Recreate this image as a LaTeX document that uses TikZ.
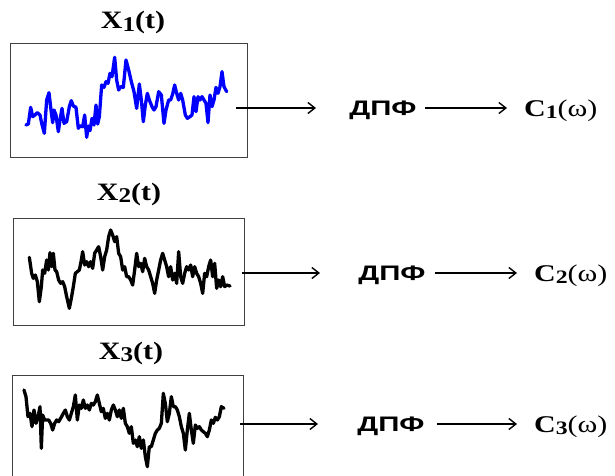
\documentclass[tikz,border=0pt]{standalone}
\usepackage{fontspec}
\setmainfont{Liberation Serif}
\newfontfamily\dpffont{Liberation Sans}
\usetikzlibrary{arrows.meta}
\newcommand{\sgnlab}[1]{\scalebox{1.2}[1]{\fontsize{25}{30}\selectfont\bfseries X\raisebox{-2.5pt}{\fontsize{21}{21}\selectfont #1}(t)}}
\newcommand{\spclab}[1]{\scalebox{1.25}[1]{\fontsize{24}{28}\selectfont\textbf{C\raisebox{-2.5pt}{\fontsize{19}{19}\selectfont #1}}(ω)}}
\newcommand{\dpflab}{\scalebox{1.4}[1]{\dpffont\fontsize{21}{24}\selectfont\bfseries ДПФ}}
\tikzset{
  sigbox/.style={draw=black!75, line width=0.9pt, inner sep=0pt},
  lbl/.style={inner sep=0pt, anchor=base},
  arr/.style={line width=1.4pt, -{Straight Barb[length=7pt,width=11pt,line width=1.4pt]}},
  wave/.style={line width=3.3pt, line join=round, line cap=round},
}
\begin{document}
\begin{tikzpicture}[x=1pt,y=-1pt]
\useasboundingbox (0,0) rectangle (615,475);
\clip (0,0) rectangle (615,475);
% boxes
\node[sigbox, minimum width=237pt, minimum height=114pt] (box1) at (128.5,100) {};
\node[sigbox, minimum width=231pt, minimum height=107pt] (box2) at (128.5,271.5) {};
\node[sigbox, minimum width=231pt, minimum height=115pt] (box3) at (127.5,432.5) {};
% titles
\node[lbl] (x1) at (133,28.5) {\sgnlab{1}};
\node[lbl] (x2) at (129,200) {\sgnlab{2}};
\node[lbl] (x3) at (131,359) {\sgnlab{3}};
% DFT labels
\node[lbl] (d1) at (383,115) {\dpflab};
\node[lbl] (d2) at (392,280) {\dpflab};
\node[lbl] (d3) at (391,431) {\dpflab};
% spectra
\node[lbl, anchor=base west] (c1) at (524,116) {\spclab{1}};
\node[lbl, anchor=base west] (c2) at (534,281) {\spclab{2}};
\node[lbl, anchor=base west] (c3) at (534,432) {\spclab{3}};
% arrow end points
\coordinate (a1s) at (236,108); \coordinate (a1e) at (316,108);
\coordinate (b1s) at (425,108); \coordinate (b1e) at (507,108);
\coordinate (a2s) at (242,273); \coordinate (a2e) at (320,273);
\coordinate (b2s) at (435,273); \coordinate (b2e) at (517,273);
\coordinate (a3s) at (240,424); \coordinate (a3e) at (318,424);
\coordinate (b3s) at (437,424); \coordinate (b3e) at (517,424);
\draw[arr] (a1s) -- (a1e); \draw[arr] (b1s) -- (b1e);
\draw[arr] (a2s) -- (a2e); \draw[arr] (b2s) -- (b2e);
\draw[arr] (a3s) -- (a3e); \draw[arr] (b3s) -- (b3e);
% signal 1
\begin{scope}[shift={(0,0)},scale=1/3]
\draw[wave, color={rgb,255:red,0;green,0;blue,255}] (78,375)--(85,372)--(92,322)--(98,350)--(105,345)--(112,338)--(120,345)--(125,370)--(133,400)--(140,300)--(147,278)--(153,330)--(158,368)--(162,330)--(168,345)--(175,395)--(180,360)--(186,325)--(192,370)--(200,365)--(208,320)--(214,302)--(220,318)--(228,322)--(235,385)--(240,378)--(248,380)--(254,345)--(260,412)--(265,378)--(270,392)--(276,355)--(282,375)--(288,315)--(293,372)--(298,350)--(305,255)--(312,262)--(318,245)--(324,250)--(330,220)--(336,230)--(344,172)--(350,240)--(356,270)--(362,260)--(370,262)--(378,180)--(386,210)--(394,245)--(402,275)--(410,325)--(418,252)--(424,300)--(430,365)--(436,315)--(442,280)--(448,300)--(456,320)--(462,330)--(468,320)--(476,275)--(484,285)--(492,370)--(498,330)--(506,300)--(512,300)--(518,282)--(524,255)--(530,280)--(536,300)--(542,280)--(548,300)--(556,345)--(562,355)--(570,350)--(576,345)--(582,290)--(588,335)--(594,290)--(600,300)--(606,290)--(612,300)--(618,310)--(624,368)--(630,285)--(636,320)--(642,300)--(648,262)--(654,280)--(660,260)--(666,215)--(672,260)--(680,275);
\end{scope}
% signal 2
\begin{scope}[shift={(0,170)},scale=1/3]
\draw[wave] (88,262)--(95,310)--(100,325)--(106,315)--(112,335)--(118,395)--(124,350)--(128,300)--(134,310)--(140,270)--(145,300)--(150,248)--(155,290)--(160,250)--(165,300)--(170,305)--(176,330)--(182,340)--(188,335)--(194,350)--(200,380)--(208,415)--(214,385)--(220,350)--(226,310)--(232,305)--(238,300)--(244,270)--(248,245)--(254,285)--(260,275)--(266,290)--(272,275)--(278,295)--(284,250)--(290,240)--(296,230)--(302,260)--(308,300)--(314,260)--(320,240)--(326,200)--(332,180)--(338,195)--(344,215)--(350,200)--(356,250)--(362,260)--(368,300)--(374,290)--(380,320)--(386,320)--(392,330)--(398,345)--(404,300)--(410,250)--(416,290)--(422,280)--(428,305)--(434,265)--(440,290)--(446,300)--(452,320)--(458,340)--(464,370)--(470,330)--(476,300)--(482,270)--(488,250)--(494,270)--(500,290)--(506,320)--(512,290)--(518,330)--(524,310)--(530,340)--(536,245)--(542,320)--(548,340)--(554,310)--(560,290)--(566,300)--(572,285)--(578,320)--(584,290)--(590,310)--(596,320)--(602,340)--(608,370)--(614,310)--(620,320)--(626,290)--(632,270)--(638,320)--(644,280)--(650,355)--(656,330)--(662,350)--(668,320)--(674,350)--(680,345)--(690,348);
\end{scope}
% signal 3
\begin{scope}[shift={(0,330)},scale=1/3]
\draw[wave] (72,180)--(78,200)--(84,260)--(90,250)--(96,290)--(102,240)--(108,280)--(114,260)--(120,230)--(124,355)--(128,255)--(134,270)--(140,270)--(146,270)--(152,280)--(158,300)--(164,280)--(170,270)--(176,275)--(182,265)--(190,250)--(196,240)--(202,260)--(208,270)--(214,250)--(220,230)--(226,195)--(232,270)--(238,225)--(244,235)--(250,210)--(256,235)--(262,225)--(268,240)--(274,220)--(280,225)--(286,215)--(292,195)--(298,220)--(304,245)--(310,235)--(316,265)--(322,250)--(328,270)--(334,240)--(340,225)--(346,240)--(352,260)--(358,240)--(364,265)--(370,235)--(376,280)--(382,290)--(388,310)--(394,290)--(400,340)--(406,330)--(412,350)--(418,320)--(424,355)--(430,330)--(436,380)--(442,410)--(448,350)--(454,350)--(460,330)--(466,310)--(472,300)--(478,295)--(484,280)--(490,190)--(496,220)--(502,275)--(508,250)--(514,200)--(520,230)--(526,230)--(532,240)--(538,260)--(544,290)--(550,310)--(556,360)--(562,300)--(568,250)--(574,300)--(580,340)--(586,285)--(592,295)--(598,290)--(604,300)--(610,305)--(616,310)--(622,320)--(628,300)--(634,270)--(640,280)--(646,262)--(652,270)--(658,260)--(664,230)--(672,235);
\end{scope}
\end{tikzpicture}
\end{document}
